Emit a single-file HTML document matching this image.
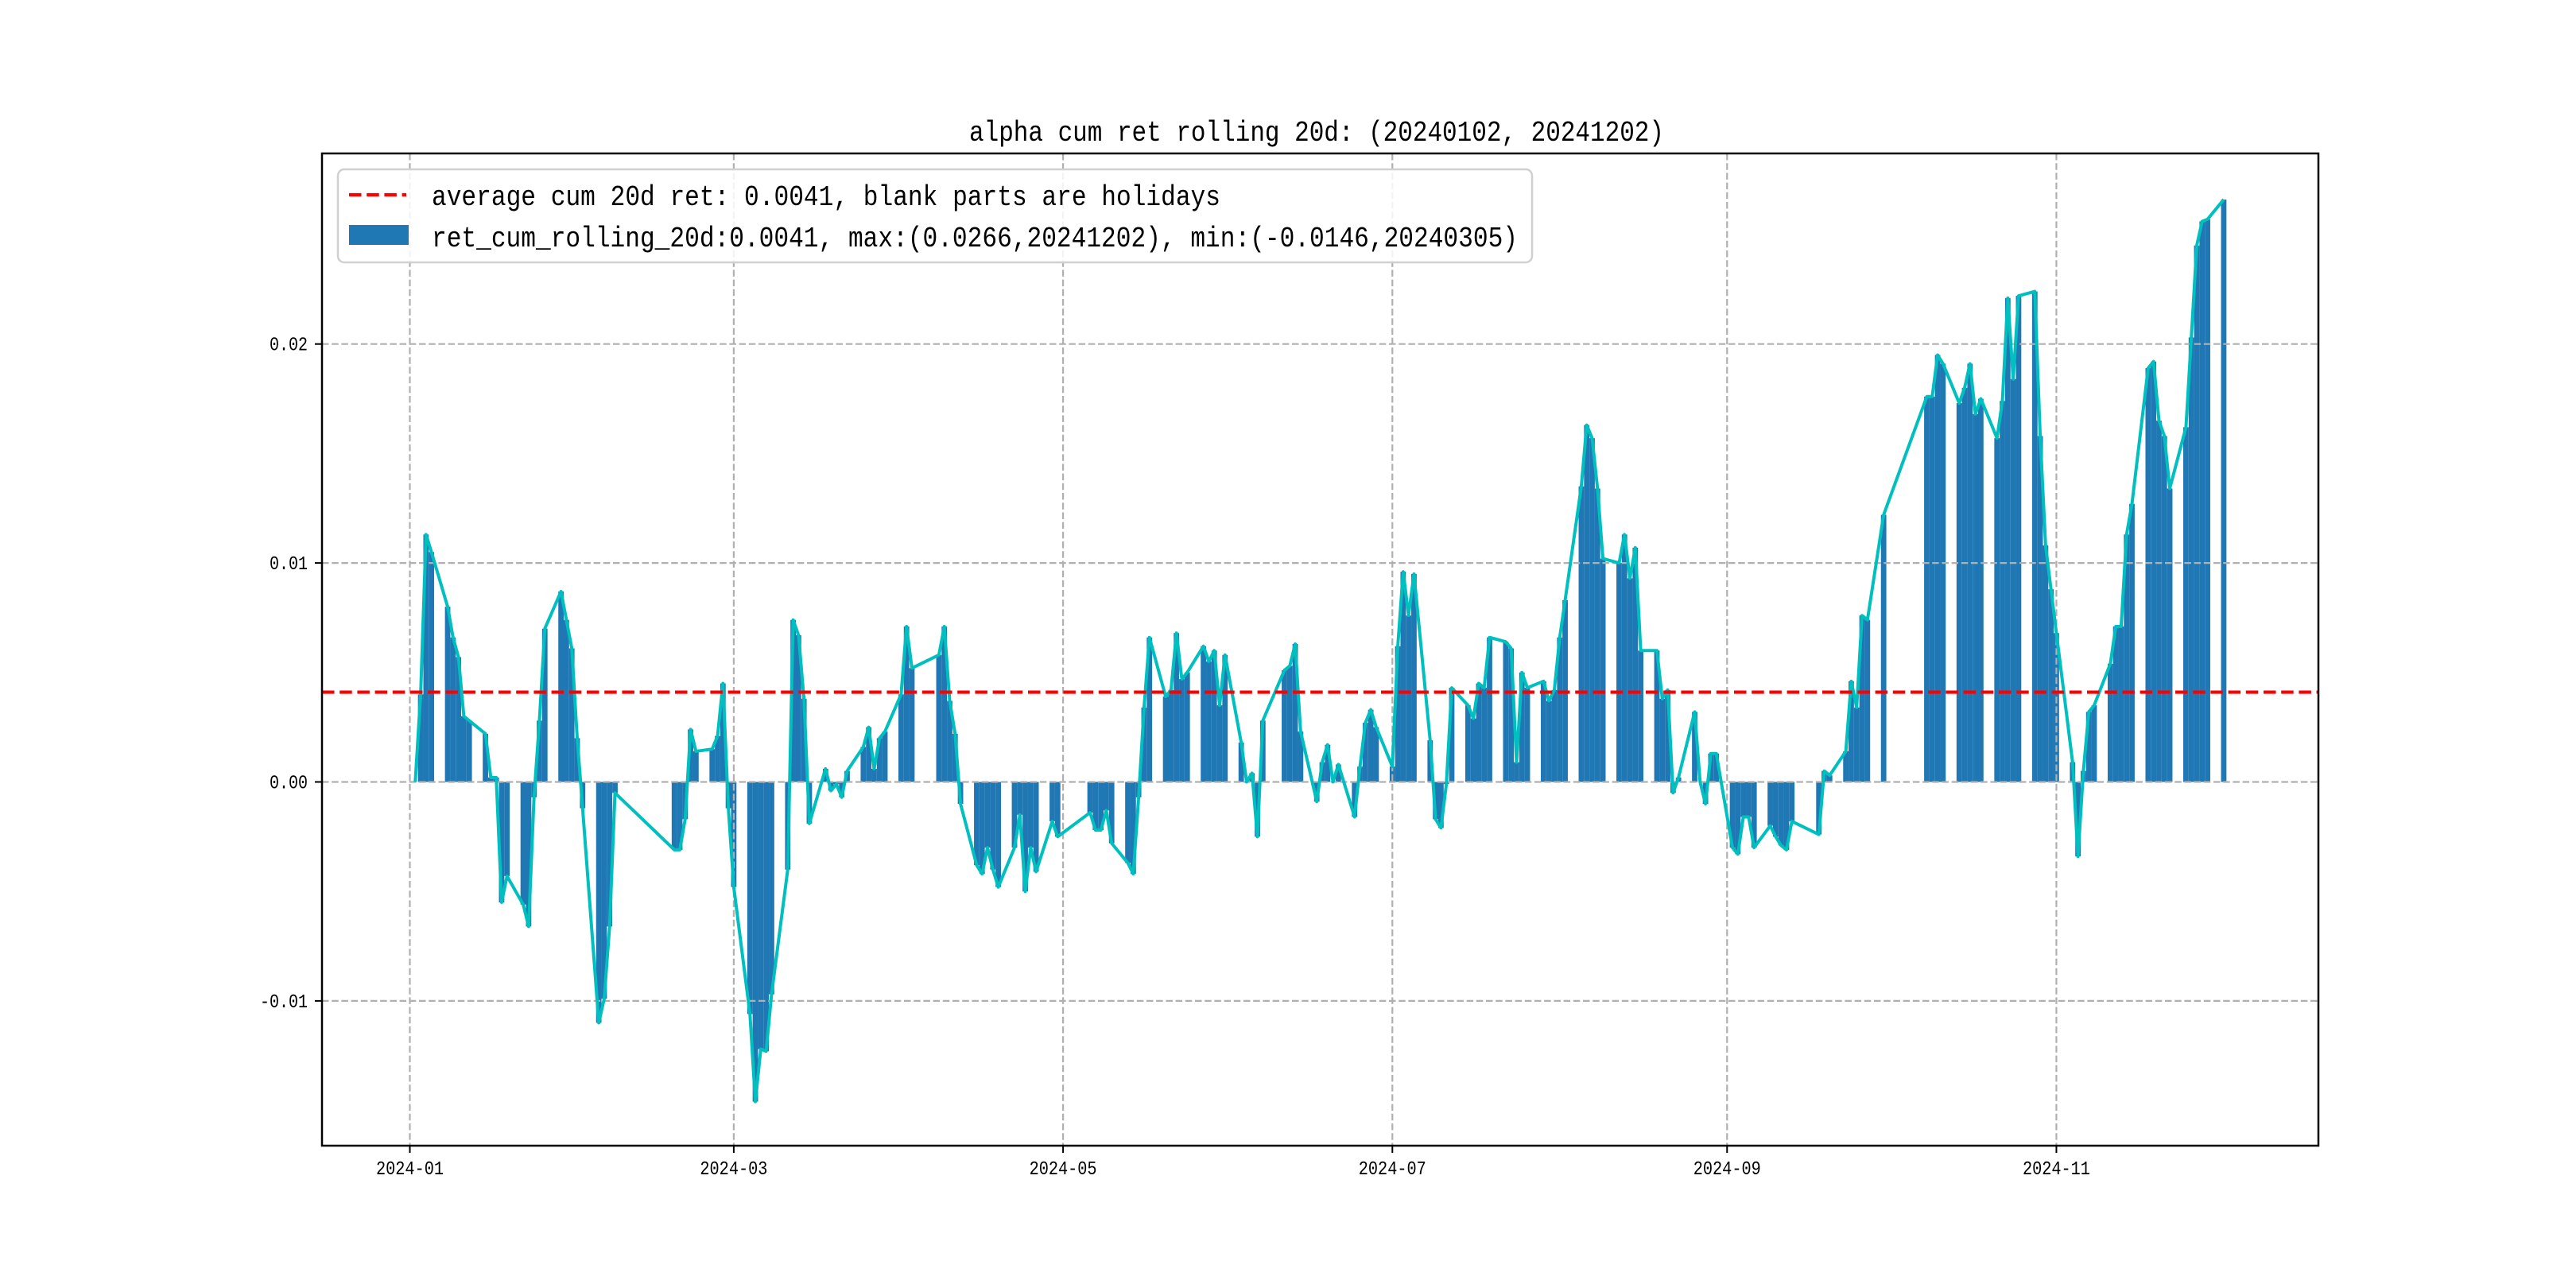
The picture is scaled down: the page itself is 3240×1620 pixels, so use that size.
<!DOCTYPE html>
<html><head><meta charset="utf-8"><style>html,body{margin:0;padding:0;background:#fff}svg{display:block}</style></head>
<body>
<svg id="chart" width="3240" height="1620" viewBox="0 0 3240 1620" xmlns="http://www.w3.org/2000/svg" font-family="'Liberation Mono', 'WenQuanYi Zen Hei', monospace">
<rect x="0" y="0" width="3240" height="1620" fill="#fff"/>
<g id="bars"></g>
<g id="grid"></g>
<g id="line"></g>
<g id="axes"></g>
<text x="1656" y="177" font-size="36" text-anchor="middle" textLength="874" lengthAdjust="spacingAndGlyphs">alpha cum ret rolling 20d: (20240102, 20241202)</text>
<g>
<rect x="425" y="213" width="1502" height="117" rx="8" fill="#fff" fill-opacity="0.85" stroke="#d0d0d0" stroke-width="2.5"/>
<line x1="439" y1="245" x2="511" y2="245" stroke="#ff0000" stroke-width="4.2" stroke-dasharray="15.5,6.7"/>
<text x="543" y="258" font-size="36" textLength="992" lengthAdjust="spacingAndGlyphs">average cum 20d ret: 0.0041, blank parts are holidays</text>
<rect x="439" y="283" width="75" height="25" fill="#1f77b4"/>
<text x="543" y="310" font-size="36" textLength="1366" lengthAdjust="spacingAndGlyphs">ret_cum_rolling_20d:0.0041, max:(0.0266,20241202), min:(-0.0146,20240305)</text>
</g>
</svg>
<script>
const dates = ["01-02","01-03","01-04","01-05","01-08","01-09","01-10","01-11","01-12","01-15","01-16","01-17","01-18","01-19","01-22","01-23","01-24","01-25","01-26","01-29","01-30","01-31","02-01","02-02","02-05","02-06","02-07","02-08","02-19","02-20","02-21","02-22","02-23","02-26","02-27","02-28","02-29","03-01","03-04","03-05","03-06","03-07","03-08","03-11","03-12","03-13","03-14","03-15","03-18","03-19","03-20","03-21","03-22","03-25","03-26","03-27","03-28","03-29","04-01","04-02","04-03","04-08","04-09","04-10","04-11","04-12","04-15","04-16","04-17","04-18","04-19","04-22","04-23","04-24","04-25","04-26","04-29","04-30","05-06","05-07","05-08","05-09","05-10","05-13","05-14","05-15","05-16","05-17","05-20","05-21","05-22","05-23","05-24","05-27","05-28","05-29","05-30","05-31","06-03","06-04","06-05","06-06","06-07","06-11","06-12","06-13","06-14","06-17","06-18","06-19","06-20","06-21","06-24","06-25","06-26","06-27","06-28","07-01","07-02","07-03","07-04","07-05","07-08","07-09","07-10","07-11","07-12","07-15","07-16","07-17","07-18","07-19","07-22","07-23","07-24","07-25","07-26","07-29","07-30","07-31","08-01","08-02","08-05","08-06","08-07","08-08","08-09","08-12","08-13","08-14","08-15","08-16","08-19","08-20","08-21","08-22","08-23","08-26","08-27","08-28","08-29","08-30","09-02","09-03","09-04","09-05","09-06","09-09","09-10","09-11","09-12","09-13","09-18","09-19","09-20","09-23","09-24","09-25","09-26","09-27","09-30","10-08","10-09","10-10","10-11","10-14","10-15","10-16","10-17","10-18","10-21","10-22","10-23","10-24","10-25","10-28","10-29","10-30","10-31","11-01","11-04","11-05","11-06","11-07","11-08","11-11","11-12","11-13","11-14","11-15","11-18","11-19","11-20","11-21","11-22","11-25","11-26","11-27","11-28","11-29","12-02"];
const values = [0.0000,0.0040,0.0113,0.0105,0.0080,0.0066,0.0057,0.0030,0.0028,0.0022,0.0002,0.0002,-0.0055,-0.0043,-0.0056,-0.0066,-0.0007,0.0028,0.0070,0.0087,0.0074,0.0061,0.0020,-0.0012,-0.0110,-0.0099,-0.0066,-0.0005,-0.0031,-0.0031,-0.0017,0.0024,0.0014,0.0015,0.0021,0.0045,-0.0012,-0.0048,-0.0106,-0.0146,-0.0122,-0.0123,-0.0097,-0.0040,0.0074,0.0067,0.0038,-0.0019,0.0006,-0.0004,-0.0001,-0.0007,0.0005,0.0016,0.0025,0.0006,0.0020,0.0023,0.0040,0.0071,0.0052,0.0058,0.0071,0.0037,0.0022,-0.0010,-0.0038,-0.0042,-0.0030,-0.0040,-0.0048,-0.0030,-0.0015,-0.0050,-0.0030,-0.0041,-0.0018,-0.0025,-0.0014,-0.0022,-0.0022,-0.0013,-0.0028,-0.0037,-0.0042,-0.0007,0.0034,0.0066,0.0039,0.0042,0.0068,0.0047,0.0050,0.0062,0.0055,0.0060,0.0035,0.0058,0.0018,0.0000,0.0004,-0.0025,0.0028,0.0051,0.0053,0.0063,0.0023,-0.0009,0.0009,0.0017,0.0000,0.0008,-0.0016,0.0007,0.0027,0.0033,0.0025,0.0007,0.0062,0.0096,0.0076,0.0095,0.0019,-0.0017,-0.0021,-0.0001,0.0043,0.0035,0.0029,0.0045,0.0043,0.0066,0.0064,0.0061,0.0009,0.0050,0.0043,0.0046,0.0037,0.0042,0.0066,0.0083,0.0135,0.0163,0.0157,0.0134,0.0102,0.0100,0.0113,0.0093,0.0107,0.0060,0.0060,0.0038,0.0042,-0.0005,0.0002,0.0032,0.0000,-0.0010,0.0013,0.0013,-0.0030,-0.0033,-0.0016,-0.0016,-0.0030,-0.0020,-0.0025,-0.0029,-0.0031,-0.0018,-0.0024,0.0005,0.0003,0.0014,0.0046,0.0034,0.0076,0.0074,0.0122,0.0176,0.0176,0.0195,0.0191,0.0173,0.0180,0.0191,0.0168,0.0175,0.0157,0.0174,0.0221,0.0184,0.0222,0.0224,0.0158,0.0108,0.0088,0.0068,0.0009,-0.0034,0.0005,0.0032,0.0035,0.0054,0.0071,0.0071,0.0113,0.0127,0.0189,0.0192,0.0165,0.0158,0.0134,0.0162,0.0203,0.0245,0.0256,0.0257,0.0266];
const averageValue = 0.0041;
const yTicks = [-0.01, 0.00, 0.01, 0.02];
const yTickLabels = ["-0.01","0.00","0.01","0.02"];
const xTickDates = ["01-01","03-01","05-01","07-01","09-01","11-01"];
const xTickLabels = ["2024-01","2024-03","2024-05","2024-07","2024-09","2024-11"];

const NS = "http://www.w3.org/2000/svg";
const AX = {left:405, right:2916, top:193, bottom:1441};
function dayOf(s){const p=s.split("-");return (Date.UTC(2024,+p[0]-1,+p[1])-Date.UTC(2024,0,1))/86400000;}
function xScale(day){return 515.5 + day*6.79;}
function yScale(v){return 983.5 - v*27540;}
function mk(tag, attrs, parent){const e=document.createElementNS(NS,tag);for(const k in attrs)e.setAttribute(k,attrs[k]);parent.appendChild(e);return e;}

const gBars=document.getElementById("bars"), gGrid=document.getElementById("grid"), gLine=document.getElementById("line"), gAxes=document.getElementById("axes");
const dayW = 6.79;
// bars
for(let i=0;i<dates.length;i++){
  const xc=xScale(dayOf(dates[i])), y0=yScale(0), y1=yScale(values[i]);
  const r=mk("rect",{x:xc-dayW/2,y:Math.min(y0,y1),width:dayW,height:Math.abs(y1-y0),fill:"#1f77b4"},gBars);
  
  
}
// grid
for(let i=0;i<yTicks.length;i++){
  const y=yScale(yTicks[i]);
  const l=mk("line",{x1:AX.left,x2:AX.right,y1:y,y2:y,stroke:"#b0b0b0","stroke-width":2.2,"stroke-dasharray":"8.5,3.7"},gGrid);
  
  
}
for(let i=0;i<xTickDates.length;i++){
  const x=xScale(dayOf(xTickDates[i]));
  const l=mk("line",{x1:x,x2:x,y1:AX.top,y2:AX.bottom,stroke:"#b0b0b0","stroke-width":2.2,"stroke-dasharray":"8.5,3.7"},gGrid);
  
  
}
// line
let d="";
for(let i=0;i<dates.length;i++){d+=(i?"L":"M")+xScale(dayOf(dates[i])).toFixed(2)+","+yScale(values[i]).toFixed(2);}
const pl=mk("path",{d:d,fill:"none",stroke:"#00bfbf","stroke-width":4,"stroke-linejoin":"round"},gLine);


// average line
const ya=yScale(averageValue);
const al=mk("line",{x1:AX.left,x2:AX.right,y1:ya,y2:ya,stroke:"#ff0000","stroke-width":4.2,"stroke-dasharray":"15.5,6.7"},gLine);


// spines
const sp=mk("rect",{x:AX.left,y:AX.top,width:AX.right-AX.left,height:AX.bottom-AX.top,fill:"none",stroke:"#000","stroke-width":2.5},gAxes);


// y ticks
for(let i=0;i<yTicks.length;i++){
  const y=yScale(yTicks[i]);
  const t=mk("line",{x1:AX.left-9,x2:AX.left,y1:y,y2:y,stroke:"#000","stroke-width":2},gAxes);
  
  
  const lbl=yTickLabels[i];
  const tx=mk("text",{x:AX.left-18,y:y+8,"font-size":24,"text-anchor":"end",textLength:lbl.length*12,lengthAdjust:"spacingAndGlyphs"},gAxes);
  tx.textContent=lbl;
  
  
}
// x ticks
for(let i=0;i<xTickDates.length;i++){
  const x=xScale(dayOf(xTickDates[i]));
  const t=mk("line",{x1:x,x2:x,y1:AX.bottom,y2:AX.bottom+9,stroke:"#000","stroke-width":2},gAxes);
  
  
  const tx=mk("text",{x:x,y:AX.bottom+36,"font-size":24,"text-anchor":"middle",textLength:85,lengthAdjust:"spacingAndGlyphs"},gAxes);
  tx.textContent=xTickLabels[i];
  
  
}
</script>
</body></html>
